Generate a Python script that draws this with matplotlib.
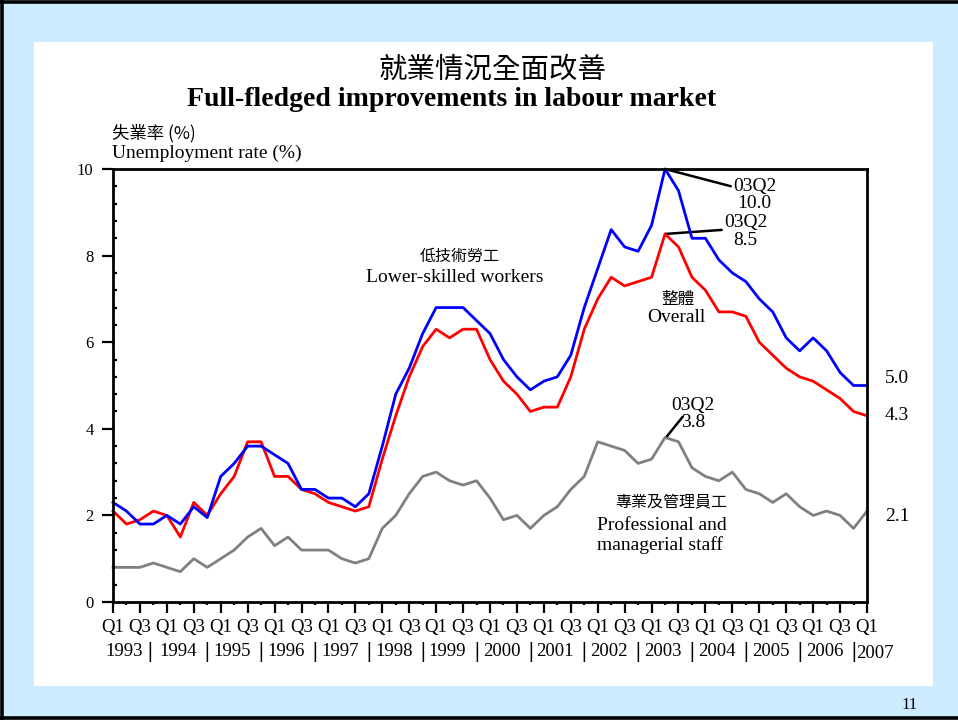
import matplotlib
matplotlib.use("Agg")
import matplotlib.pyplot as plt
from matplotlib.patches import Rectangle
from matplotlib.lines import Line2D
import numpy as np

# ---------------- data ----------------
years = [str(y) for y in range(1993, 2008)]
quarters = ["Q1", "Q2", "Q3", "Q4"]

overall = [2.1, 1.8, 1.9, 2.1, 2.0, 1.5, 2.3, 2.0, 2.5, 2.9,
           3.7, 3.7, 2.9, 2.9, 2.6, 2.5, 2.3, 2.2, 2.1, 2.2,
           3.3, 4.3, 5.2, 5.9, 6.3, 6.1, 6.3, 6.3, 5.6, 5.1,
           4.8, 4.4, 4.5, 4.5, 5.2, 6.3, 7.0, 7.5, 7.3, 7.4,
           7.5, 8.5, 8.2, 7.5, 7.2, 6.7, 6.7, 6.6, 6.0, 5.7,
           5.4, 5.2, 5.1, 4.9, 4.7, 4.4, 4.3]

lower_skilled = [2.3, 2.1, 1.8, 1.8, 2.0, 1.8, 2.2, 1.95, 2.9, 3.2,
                 3.6, 3.6, 3.4, 3.2, 2.6, 2.6, 2.4, 2.4, 2.2, 2.5,
                 3.6, 4.8, 5.4, 6.2, 6.8, 6.8, 6.8, 6.5, 6.2, 5.6,
                 5.2, 4.9, 5.1, 5.2, 5.7, 6.8, 7.7, 8.6, 8.2, 8.1,
                 8.7, 10.0, 9.5, 8.4, 8.4, 7.9, 7.6, 7.4, 7.0, 6.7,
                 6.1, 5.8, 6.1, 5.8, 5.3, 5.0, 5.0]

professional = [0.8, 0.8, 0.8, 0.9, 0.8, 0.7, 1.0, 0.8, 1.0, 1.2,
                1.5, 1.7, 1.3, 1.5, 1.2, 1.2, 1.2, 1.0, 0.9, 1.0,
                1.7, 2.0, 2.5, 2.9, 3.0, 2.8, 2.7, 2.8, 2.4, 1.9,
                2.0, 1.7, 2.0, 2.2, 2.6, 2.9, 3.7, 3.6, 3.5, 3.2,
                3.3, 3.8, 3.7, 3.1, 2.9, 2.8, 3.0, 2.6, 2.5, 2.3,
                2.5, 2.2, 2.0, 2.1, 2.0, 1.7, 2.1]

peak_label = "03Q2"
peak_index = 41

# ---------------- figure ----------------
W, H = 958, 720
fig = plt.figure(figsize=(W / 100, H / 100), dpi=100)
fig.patch.set_facecolor("#CCEBFF")

SERIF = ["Liberation Serif", "Noto Sans CJK TC"]
CJK = ["Noto Sans CJK TC", "Liberation Serif"]


def fx(px):
    return px / W


def fy(py):
    return 1 - py / H


def ftext(px, py, s, **kw):
    kw.setdefault("ha", "center")
    kw.setdefault("va", "center")
    return fig.text(fx(px), fy(py), s, **kw)


# white panel and page borders
fig.patches.append(Rectangle((fx(34), fy(686)), fx(933) - fx(34), fy(42) - fy(686),
                             transform=fig.transFigure, facecolor="white",
                             edgecolor="none", zorder=-5))
fig.lines.append(Line2D([fx(1.5), fx(1.5)], [0, 1], transform=fig.transFigure,
                        color="black", linewidth=2.6, zorder=-4))
fig.lines.append(Line2D([0, 1], [fy(1.5), fy(1.5)], transform=fig.transFigure,
                        color="black", linewidth=2.6, zorder=-4))
fig.lines.append(Line2D([0, 1], [fy(718.3), fy(718.3)], transform=fig.transFigure,
                        color="black", linewidth=2.6, zorder=-4))

ax = fig.add_axes([fx(113), fy(602), fx(867) - fx(113), fy(169) - fy(602)])
ax.set_zorder(2)
ax.set_facecolor("white")

n = len(overall)
x = np.arange(n)

ax.plot(x, professional, color="#808080", linewidth=2.0, clip_on=False, zorder=3)
ax.plot(x, overall, color="#FF0000", linewidth=2.0, clip_on=False, zorder=4)
ax.plot(x, lower_skilled, color="#0000FF", linewidth=2.0, clip_on=False, zorder=5)

ax.set_xlim(0, n - 1)
ax.set_ylim(0, 10)

for s in ax.spines.values():
    s.set_linewidth(2.0)
    s.set_zorder(6)

# y ticks
ax.set_yticks(np.arange(0, 11, 2))
ax.set_yticks(np.arange(0, 10.01, 0.4), minor=True)
ax.tick_params(axis="y", which="major", direction="out", length=8, width=1.6,
               labelsize=12, pad=6, right=False)
ax.tick_params(axis="y", which="minor", direction="in", length=3, width=1.6,
               right=False)
for lab in ax.get_yticklabels():
    lab.set_fontfamily(SERIF)

# x ticks: long at Q1/Q3, short at Q2/Q4
qlabels = [quarters[i % 4] for i in range(n)]
major_idx = [i for i in range(n) if i % 2 == 0]
minor_idx = [i for i in range(n) if i % 2 == 1]
ax.set_xticks(major_idx)
ax.set_xticklabels([qlabels[i] for i in major_idx])
ax.set_xticks(minor_idx, minor=True)
ax.tick_params(axis="x", which="major", direction="out", length=8, width=1.6,
               labelsize=13.5, pad=4, top=False)
ax.tick_params(axis="x", which="minor", direction="out", length=2.5, width=1.6,
               top=False)
for lab in ax.get_xticklabels():
    lab.set_fontfamily(SERIF)

# year labels and separators
xt = ax.get_xaxis_transform()
year_y = (602 - 651.5) / 433.0
for k, yr in enumerate(years):
    pos = 4 * k + 0.85
    if yr == years[-1]:
        ax.text(n - 1 + 0.55, (602 - 654) / 433.0, yr, transform=xt, ha="center",
                va="center", fontsize=13.5, family=SERIF, clip_on=False)
    else:
        ax.text(pos, year_y, yr, transform=xt, ha="center", va="center",
                fontsize=13.5, family=SERIF, clip_on=False)
    if k < len(years) - 1:
        sep = 4 * k + 3.0 if k > 0 else 2.75
        ax.text(sep, (602 - 652.5) / 433.0, "|", transform=xt, ha="center",
                va="center", fontsize=15, fontweight="bold", family=SERIF,
                clip_on=False)

# ---------------- titles ----------------
ftext(493, 70, "就業情況全面改善", fontsize=20.5, family=CJK)
ftext(452, 100, "Full-fledged improvements in labour market", fontsize=20,
      fontweight="bold", family=SERIF)
ftext(112, 133, "失業率 (%)", ha="left", fontsize=12.5, family=CJK)
ftext(112, 153, "Unemployment rate (%)", ha="left", fontsize=14, family=SERIF)

# series labels
ftext(460, 256, "低技術勞工", fontsize=11.5, family=CJK)
ftext(455, 277.5, "Lower-skilled workers", fontsize=14, family=SERIF)
ftext(678, 299, "整體", fontsize=12, family=CJK)
ftext(676, 318, "Overall", fontsize=14, family=SERIF)
ftext(671, 502, "專業及管理員工", fontsize=11.5, family=CJK)
ftext(661.5, 525, "Professional and", fontsize=14, family=SERIF)
ftext(659.5, 545, "managerial staff", fontsize=14, family=SERIF)

# ---------------- peak callouts ----------------
def callout(values, line_off, text_off, lsp):
    v = values[peak_index]
    ax.annotate("", xy=(peak_index, v), xytext=line_off, textcoords="offset points",
                arrowprops=dict(arrowstyle="-", color="black", lw=1.8,
                                shrinkA=0, shrinkB=0), annotation_clip=False)
    ax.annotate(f"{peak_label}\n{v:.1f}", xy=(peak_index, v), xytext=text_off,
                textcoords="offset points", ha="center", va="center",
                fontsize=14, family=SERIF, linespacing=lsp,
                annotation_clip=False)


callout(lower_skilled, (47.3, -12.4), (64.4, -18.8), 1.0)
callout(overall, (40.8, 2.9), (58.0, 1.8), 1.05)
ax.annotate("", xy=(peak_index + 0.15, professional[peak_index] + 0.03),
            xytext=(11.3, 14.0), textcoords="offset points",
            arrowprops=dict(arrowstyle="-", color="black", lw=1.8,
                            shrinkA=0, shrinkB=0), annotation_clip=False)
ax.annotate(f"{peak_label}\n{professional[peak_index]:.1f}",
            xy=(peak_index, professional[peak_index]), xytext=(20, 17),
            textcoords="offset points", ha="center", va="center", fontsize=14,
            family=SERIF, linespacing=1.05, annotation_clip=False)

# end values on the right
for vals, dy in [(lower_skilled, 4.7), (overall, 0.5), (professional, -3.6)]:
    ax.annotate(f"{vals[-1]:.1f}", xy=(n - 1, vals[-1]), xytext=(13, dy),
                textcoords="offset points", ha="left", va="center", fontsize=14,
                family=SERIF, annotation_clip=False)

# page number
ftext(910, 705, "11", fontsize=12, family=SERIF)

fig.savefig("out.png", dpi=100, facecolor=fig.get_facecolor())
